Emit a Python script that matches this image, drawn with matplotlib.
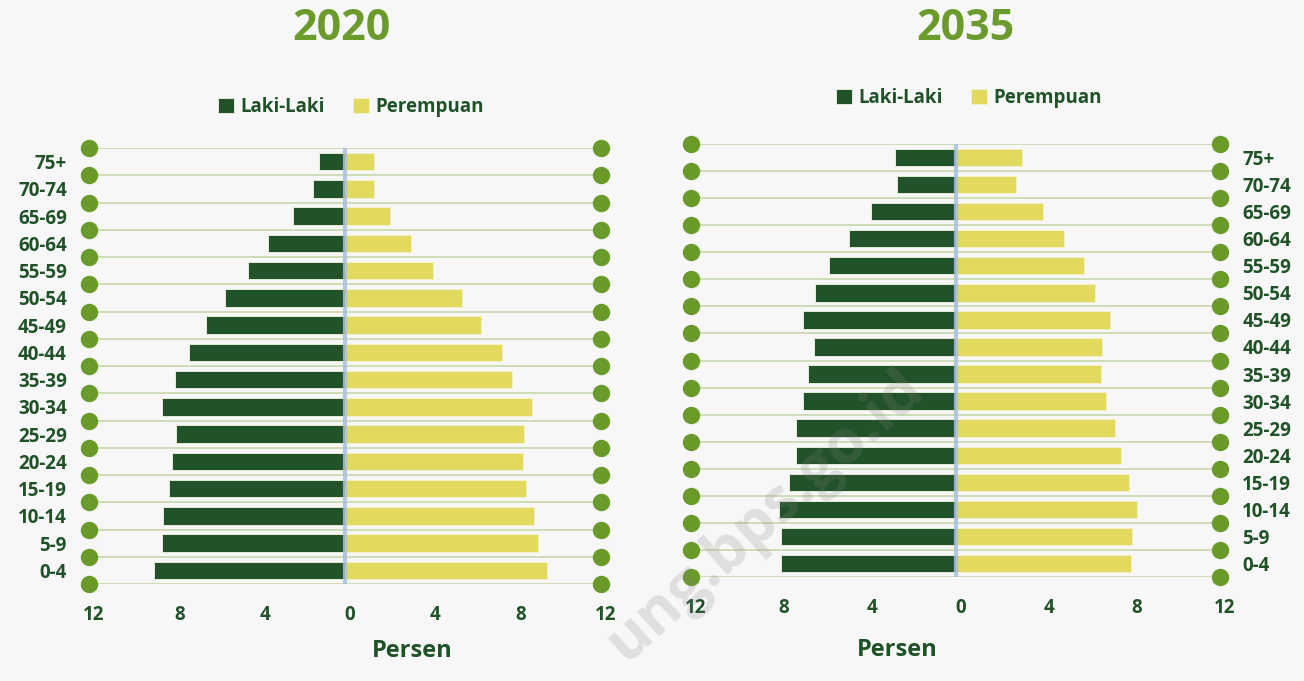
import matplotlib.pyplot as plt
from matplotlib.transforms import ScaledTranslation

# Age groups, bottom to top
ages = ['0-4', '5-9', '10-14', '15-19', '20-24', '25-29', '30-34', '35-39',
        '40-44', '45-49', '50-54', '55-59', '60-64', '65-69', '70-74', '75+']

# Percent of population
male_2020 = [8.94, 8.56, 8.54, 8.24, 8.12, 7.92, 8.59, 7.95,
             7.32, 6.51, 5.62, 4.55, 3.59, 2.42, 1.51, 1.24]
female_2020 = [9.48, 9.06, 8.84, 8.47, 8.34, 8.37, 8.76, 7.85,
               7.37, 6.39, 5.49, 4.13, 3.10, 2.10, 1.36, 1.36]
male_2035 = [7.90, 7.90, 8.03, 7.54, 7.25, 7.22, 6.91, 6.69,
             6.44, 6.93, 6.37, 5.74, 4.84, 3.83, 2.66, 2.75]
female_2035 = [7.95, 8.03, 8.22, 7.86, 7.50, 7.25, 6.82, 6.60,
               6.64, 7.02, 6.33, 5.85, 4.93, 3.98, 2.74, 3.00]

xticks = [-12, -8, -4, 0, 4, 8, 12]
xtick_labels = ['12', '8', '4', '0', '4', '8', '12']

MALE = '#22522a'
FEMALE = '#e2da5e'
TEXT = '#1f5227'
TITLE = '#6a9b2c'
DOT = '#6a9a2a'
GRID = '#c6d8ab'

plt.rcParams['font.family'] = ['Open Sans', 'DejaVu Sans']
plt.rcParams['font.weight'] = 'bold'

W, H = 1304, 681
fig = plt.figure(figsize=(W / 100, H / 100), dpi=100, facecolor='#f7f7f7')


def px_rect(x0, x1, ytop, ybot):
    return [x0 / W, 1 - ybot / H, (x1 - x0) / W, (ybot - ytop) / H]


def pyramid(ax, males, females, title, title_xy, legend_xy, persen_xy, labels_right):
    y = list(range(len(ages)))
    neg = [-v for v in males]
    bm = ax.barh(y, neg, height=0.64, color=MALE, edgecolor='#e4ecd8', linewidth=0.7, zorder=2)
    bf = ax.barh(y, females, height=0.64, color=FEMALE, edgecolor='#f3f0c8', linewidth=0.7, zorder=2)

    # horizontal guide lines with dots on both ends
    for b in [i - 0.5 for i in range(len(ages) + 1)]:
        ax.plot([-12, 12], [b, b], color=GRID, lw=1.2, zorder=1)
        ax.plot([-12, 12], [b, b], 'o', color=DOT, markersize=11.5, zorder=4, clip_on=False)

    ax.axvline(0, color='#a9bfdc', lw=3, alpha=0.85, zorder=3)

    ax.set_xlim(-12, 12)
    ax.set_ylim(-0.5, len(ages) - 0.5)
    for s in ax.spines.values():
        s.set_visible(False)
    ax.set_facecolor('none')

    ax.set_xticks(xticks)
    ax.set_xticklabels(xtick_labels, fontsize=13.5, color=TEXT, fontweight='bold')
    ax.tick_params(axis='x', length=0, pad=15)
    for lab in ax.get_xticklabels():
        lab.set_transform(lab.get_transform() + ScaledTranslation(0.05, 0, fig.dpi_scale_trans))

    ax.set_yticks(y)
    ax.set_yticklabels(ages, fontsize=13.5, color=TEXT, fontweight='bold')
    if labels_right:
        ax.yaxis.tick_right()
    ax.tick_params(axis='y', length=0, pad=16)

    fig.text(title_xy[0] / W, 1 - title_xy[1] / H, title, fontsize=31, fontweight='bold',
             color=TITLE, ha='center', va='center')
    fig.text(persen_xy[0] / W, 1 - persen_xy[1] / H, 'Persen', fontsize=17, fontweight='bold',
             color=TEXT, ha='center', va='center')
    fig.legend([bm, bf], ['Laki-Laki', 'Perempuan'], ncol=2, loc='center',
               bbox_to_anchor=(legend_xy[0] / W, 1 - legend_xy[1] / H), frameon=False,
               handlelength=0.85, handleheight=0.85, handletextpad=0.35, columnspacing=1.5,
               prop={'size': 13.5, 'weight': 'bold'}, labelcolor=TEXT)


ax1 = fig.add_axes(px_rect(89, 601, 148, 584))
pyramid(ax1, male_2020, female_2020, '2020', (341, 28), (351, 107), (412, 651), False)

ax2 = fig.add_axes(px_rect(691, 1220, 144, 577))
pyramid(ax2, male_2035, female_2035, '2035', (965, 28), (969, 98), (897, 650), True)

# faint watermark (only the part visible in the picture)
fig.text(926 / W, 1 - 392 / H, 'ung.bps.go.id', fontsize=44, fontweight='bold',
         color='#808080', alpha=0.2, rotation=42, rotation_mode='anchor',
         ha='right', va='baseline', zorder=10)

fig.savefig('out.png', dpi=100, facecolor=fig.get_facecolor())
